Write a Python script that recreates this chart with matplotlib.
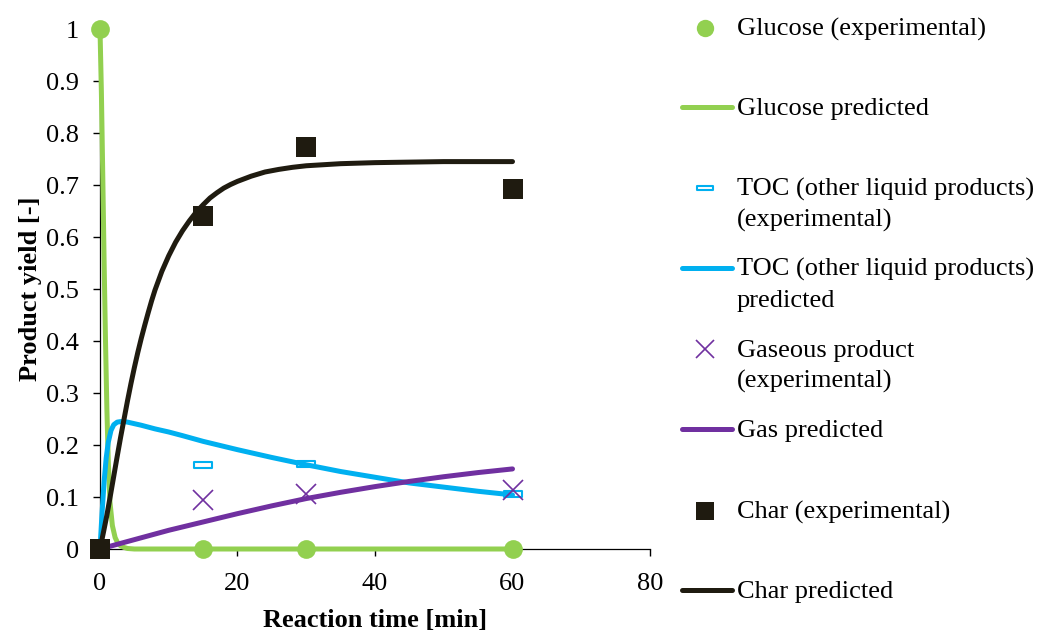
import matplotlib
matplotlib.use("Agg")
import matplotlib.pyplot as plt
from matplotlib.lines import Line2D
from matplotlib.path import Path
import numpy as np

plt.rcParams['font.family'] = ['Liberation Serif', 'DejaVu Serif']

# ---------------- data ----------------
t_exp = [0, 15, 30, 60]
glucose_exp = [1.0, 0.0, 0.0, 0.0]
t_exp2 = [15, 30, 60]
toc_exp = [0.161, 0.164, 0.106]
gas_exp = [0.094, 0.105, 0.114]
char_exp = [0.0, 0.640, 0.773, 0.693]

t_glu = [0, 0.2, 0.4, 0.6, 0.8, 1.0, 1.2, 1.45, 1.8, 2.2, 2.6, 3.0, 3.5, 4.0, 5, 10, 15, 30, 60]
glucose_pred = [1.0, 0.88, 0.72, 0.55, 0.40, 0.27, 0.17, 0.09, 0.045, 0.022, 0.011, 0.006, 0.003, 0.001, 0, 0, 0, 0, 0]

t_toc = [0, 0.3, 0.6, 0.9, 1.2, 1.6, 2.0, 2.5, 3.0, 3.5, 4, 5, 6, 8, 10, 12, 15, 20, 25, 30, 35, 40, 45, 50, 55, 60]
toc_pred = [0.0, 0.07, 0.13, 0.175, 0.205, 0.228, 0.239, 0.244, 0.245, 0.245, 0.244, 0.241, 0.238, 0.231, 0.225, 0.218, 0.207, 0.191, 0.176, 0.162, 0.149, 0.138, 0.127, 0.119, 0.111, 0.104]

t_gas = [0, 5, 10, 15, 20, 25, 30, 35, 40, 45, 50, 55, 60]
gas_pred = [0.0, 0.018, 0.036, 0.052, 0.068, 0.083, 0.097, 0.109, 0.12, 0.13, 0.139, 0.147, 0.154]

t_char = [0, 0.5, 1, 1.5, 2, 2.5, 3, 3.5, 4, 4.5, 5, 5.5, 6, 6.5, 7, 7.5, 8, 9, 10, 11, 12, 13, 14, 15,
          16, 17, 18, 19, 20, 22, 24, 26, 28, 30, 35, 40, 50, 60]
char_pred = [0.0, 0.032, 0.065, 0.102, 0.14, 0.178, 0.215, 0.25, 0.285, 0.318, 0.349, 0.378, 0.405,
             0.43, 0.454, 0.477, 0.498, 0.534, 0.564, 0.59, 0.612, 0.631, 0.648, 0.662, 0.675, 0.685,
             0.694, 0.701, 0.707, 0.717, 0.725, 0.730, 0.734, 0.737, 0.741, 0.743, 0.745, 0.745]

x_ticks = [0, 20, 40, 60, 80]
y_ticks = [0, 0.1, 0.2, 0.3, 0.4, 0.5, 0.6, 0.7, 0.8, 0.9, 1]
y_ticklabels = ['0', '0.1', '0.2', '0.3', '0.4', '0.5', '0.6', '0.7', '0.8', '0.9', '1']
x_label = 'Reaction time [min]'
y_label = 'Product yield [-]'
legend_labels = [
    ['Glucose (experimental)'],
    ['Glucose predicted'],
    ['TOC (other liquid products)', '(experimental)'],
    ['TOC (other liquid products)', 'predicted'],
    ['Gaseous product', '(experimental)'],
    ['Gas predicted'],
    ['Char (experimental)'],
    ['Char predicted'],
]

# ---------------- style ----------------
GREEN = '#92D050'
BLUE = '#00B0F0'
PURPLE = '#7030A0'
DARK = '#1F1B10'
FS = 19
LW = 3.6

W, H = 1039, 635
fig = plt.figure(figsize=(W / 100, H / 100), dpi=100)
ax = fig.add_axes([100 / W, 1 - 549 / H, 550 / W, 520 / H])

rect_marker = Path([(-1, -0.28), (1, -0.28), (1, 0.28), (-1, 0.28), (-1, -0.28)],
                   [Path.MOVETO, Path.LINETO, Path.LINETO, Path.LINETO, Path.CLOSEPOLY])

common = dict(clip_on=False)
line_kw = dict(lw=LW, solid_capstyle='round', solid_joinstyle='round', **common)
ax.plot(t_exp, glucose_exp, 'o', color=GREEN, ms=13.5, mew=0, zorder=3, **common)
ax.plot(t_glu, glucose_pred, '-', color=GREEN, zorder=3, **line_kw)
ax.plot(t_exp2, toc_exp, linestyle='none', marker=rect_marker, ms=13, mfc='white', mec=BLUE, mew=1.5, zorder=4, **common)
ax.plot(t_toc, toc_pred, '-', color=BLUE, zorder=4, **line_kw)
ax.plot(t_exp2, gas_exp, 'x', color=PURPLE, ms=14, mew=1.2, zorder=5, **common)
ax.plot(t_gas, gas_pred, '-', color=PURPLE, zorder=5, **line_kw)
ax.plot(t_exp, char_exp, 's', color=DARK, ms=14.4, mew=0, zorder=6, **common)
ax.plot(t_char, char_pred, '-', color=DARK, zorder=6, **line_kw)

ax.set_xlim(0, 80)
ax.set_ylim(0, 1)
ax.set_xticks(x_ticks)
ax.set_yticks(y_ticks)
ax.set_yticklabels(y_ticklabels)
for s in ['top', 'right']:
    ax.spines[s].set_visible(False)
for s in ['left', 'bottom']:
    ax.spines[s].set_linewidth(0.9)
    ax.spines[s].set_color('black')
ax.tick_params(axis='both', direction='out', length=5, width=1.0, labelsize=FS, color='black')
ax.tick_params(axis='y', pad=10)
ax.tick_params(axis='x', pad=12)
ax.set_xlabel(x_label, fontsize=FS, fontweight='bold', labelpad=10)
ax.set_ylabel(y_label, fontsize=FS, fontweight='bold', labelpad=3)

# ---------------- legend (manual, figure pixels) ----------------
def fx(px):
    return px / W

def fy(py):
    return 1 - py / H

handle_y = [28, 107, 188, 268, 349, 429, 511, 590]
handles = [
    dict(kind='marker', marker='o', color=GREEN, ms=12.5, mew=0),
    dict(kind='line', color=GREEN),
    dict(kind='marker', marker=rect_marker, color=BLUE, ms=11.5, mew=1.5, mfc='white'),
    dict(kind='line', color=BLUE),
    dict(kind='marker', marker='x', color=PURPLE, ms=12.5, mew=1.2),
    dict(kind='line', color=PURPLE),
    dict(kind='marker', marker='s', color=DARK, ms=12.5, mew=0),
    dict(kind='line', color=DARK),
]
for hy, h, labs in zip(handle_y, handles, legend_labels):
    if h['kind'] == 'line':
        fig.add_artist(Line2D([fx(682), fx(732)], [fy(hy), fy(hy)], color=h['color'], lw=LW,
                              solid_capstyle='round'))
    else:
        fig.add_artist(Line2D([fx(705)], [fy(hy)], linestyle='none', marker=h['marker'],
                              color=h['color'], ms=h['ms'], mew=h['mew'],
                              mfc=h.get('mfc', h['color']), mec=h['color']))
    for i, lab in enumerate(labs):
        fig.text(fx(737), fy(hy + 8 + 31 * i), lab, fontsize=FS, va='baseline', ha='left')

fig.savefig('out.png', dpi=100)
